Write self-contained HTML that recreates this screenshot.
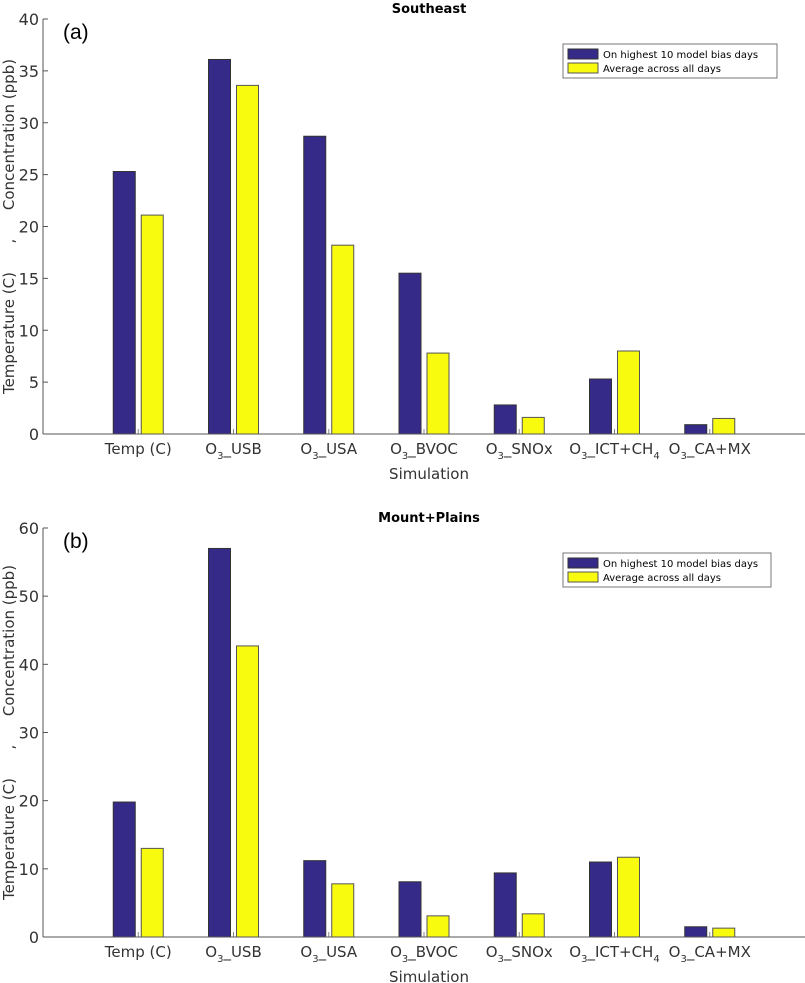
<!DOCTYPE html>
<html><head><meta charset="utf-8"><style>
body{margin:0;background:#fff;}
svg{display:block;font-family:"DejaVu Sans","Liberation Sans",sans-serif;}
</style></head><body>
<svg id="c" width="805" height="983"></svg>
<script>
const categories=["Temp (C)","USB","USA","BVOC","SNOx","ICT+CH","CA+MX"];
const seA_high=[25.3,36.1,28.7,15.5,2.8,5.3,0.9];
const seA_avg=[21.1,33.6,18.2,7.8,1.6,8.0,1.5];
const mpB_high=[19.8,57.0,11.2,8.1,9.4,11.0,1.5];
const mpB_avg=[13.0,42.7,7.8,3.1,3.4,11.7,1.3];
const ticksA=[0,5,10,15,20,25,30,35,40];
const ticksB=[0,10,20,30,40,50,60];
const NS="http://www.w3.org/2000/svg";
const svg=document.getElementById('c');
function mk(t,a,p){const e=document.createElementNS(NS,t);for(const k in a)e.setAttribute(k,a[k]);(p||svg).appendChild(e);return e;}
function panel(cfg){
  const g=mk('g',{});
  
  
  const x0=43,x1=805,y0=cfg.y0,yTop=cfg.yTop,ymax=cfg.ymax;
  const xs=v=>x0+(x1-x0)*v/8;
  const ys=v=>y0-(y0-yTop)*v/ymax;
  cfg.ticks.forEach(t=>{
    mk('line',{x1:x0,x2:x0+5,y1:ys(t),y2:ys(t),stroke:'#555'},g);
    const tx=mk('text',{x:x0-4,y:ys(t)+6,'text-anchor':'end','font-size':16,fill:'#333'},g);tx.textContent=t;
    
  });
  categories.forEach((c,i)=>{
    const cx=xs(i+1);
    const b1=mk('rect',{x:cx-25,y:ys(cfg.high[i]),width:22,height:y0-ys(cfg.high[i]),fill:'#352a87',stroke:'#333','stroke-width':1},g);
    
    const b2=mk('rect',{x:cx+3,y:ys(cfg.avg[i]),width:22,height:y0-ys(cfg.avg[i]),fill:'#f9fb0e',stroke:'#555','stroke-width':1},g);
    
    mk('line',{x1:cx,x2:cx,y1:y0,y2:y0-5,stroke:'#888'},g);
    const t=mk('text',{x:cx,y:y0+20,'text-anchor':'middle','font-size':15,fill:'#333'},g);
    
    if(i===0){t.textContent=c;}
    else{
      const s1=mk('tspan',{},t);s1.textContent='O';
      const s2=mk('tspan',{dy:5,'font-size':10},t);s2.textContent='3';
      const s3=mk('tspan',{dy:-5},t);s3.textContent='_'+c;
      if(c==='ICT+CH'){const s4=mk('tspan',{dy:5,'font-size':10},t);s4.textContent='4';}
    }
  });
  mk('line',{x1:x0,x2:x0,y1:yTop,y2:y0,stroke:'#555'},g);
  mk('line',{x1:x0,x2:x1,y1:y0,y2:y0,stroke:'#555'},g);
  const xl=mk('text',{x:429,y:y0+45,'text-anchor':'middle','font-size':15,fill:'#333'},g);xl.textContent='Simulation';
  
  const yc=(y0+yTop)/2;
  const yl=mk('text',{x:0,y:0,transform:`translate(14,${yc}) rotate(-90)`,'text-anchor':'middle','font-size':15,fill:'#333'},g);
  yl.setAttribute('xml:space','preserve');
  yl.textContent='Temperature (C)      ,      Concentration (ppb)';
  yl.style.whiteSpace='pre';
  
  const ti=mk('text',{x:429,y:yTop-6,'text-anchor':'middle','font-size':13,'font-weight':'bold',fill:'#000'},g);ti.textContent=cfg.title;
  
  const pl=mk('text',{x:63,y:yTop+20,'font-size':21,fill:'#000','font-family':'Liberation Sans'},g);pl.textContent=cfg.label;
  
  const lg=mk('g',{},g);
  mk('rect',{x:563,y:cfg.ly,width:cfg.lw,height:34,fill:'#fff',stroke:'#777'},lg);
  mk('rect',{x:568,y:cfg.ly+5,width:30,height:10,fill:'#352a87',stroke:'#333'},lg);
  mk('rect',{x:568,y:cfg.ly+19,width:30,height:10,fill:'#f9fb0e',stroke:'#555'},lg);
  const l1=mk('text',{x:603,y:cfg.ly+14,'font-size':10,fill:'#000'},lg);l1.textContent='On highest 10 model bias days';
  
  const l2=mk('text',{x:603,y:cfg.ly+28,'font-size':10,fill:'#000'},lg);l2.textContent='Average across all days';
  
}
panel({name:'southeast-chart',y0:434,yTop:19,ymax:40,ticks:ticksA,high:seA_high,avg:seA_avg,title:'Southeast',label:'(a)',ly:44,lw:214});
panel({name:'mount-plains-chart',y0:937,yTop:528,ymax:60,ticks:ticksB,high:mpB_high,avg:mpB_avg,title:'Mount+Plains',label:'(b)',ly:553,lw:208});
</script>
</body></html>
